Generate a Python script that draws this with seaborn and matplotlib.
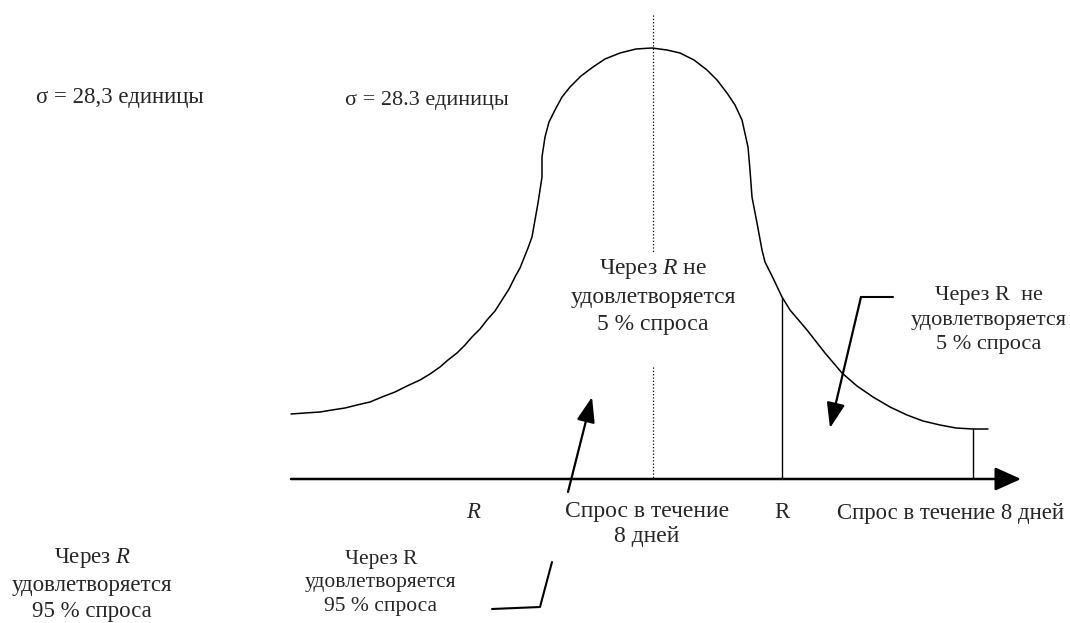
import numpy as np
import pandas as pd
import matplotlib
matplotlib.use("Agg")
import matplotlib.pyplot as plt
import seaborn as sns

# demand curve (x = demand position, y = drawn height, image px)
curve_x = [291, 305, 320, 332, 345, 357, 370, 382, 395, 407, 420, 430, 440, 448, 457,
           465, 472, 480, 487, 495, 502, 509, 515, 520, 524, 528, 532, 535, 538, 540,
           542, 542, 545, 549, 555, 562, 570, 581, 593, 605, 620, 636, 652, 667, 680,
           694, 707, 717, 727, 735, 742, 748, 750, 752, 757, 762, 765, 773, 782, 790,
           807, 825, 842, 857, 873, 890, 907, 923, 940, 956, 973, 988]
curve_y = [414, 413, 412, 410, 408, 405, 402, 397, 392, 386, 380, 374, 367, 360, 353,
           345, 337, 329, 320, 311, 300, 289, 277, 268, 258, 248, 237, 220, 203, 190,
           177, 157, 137, 122, 110, 97, 87, 76, 67, 59, 53, 49, 48, 50, 53,
           60, 70, 80, 93, 105, 120, 147, 170, 197, 223, 250, 262, 278, 297, 310,
           330, 353, 373, 386, 397, 407, 415, 421, 425, 428, 429, 429]

axis_y = 479
axis_x = [291, 1021]
mean_x = 653
mean_top = 15
mean_gap = [252, 367]
r_x = 782
r_top = 297
tail_x = 973
tail_top = 429

sigma_labels = ["σ = 28,3 единицы", "σ = 28.3 единицы"]
not_met_center = "Через $R$ не\nудовлетворяется\n5 % спроса"
not_met_right = "Через R  не\nудовлетворяется\n5 % спроса"
met_left = "Через $R$\nудовлетворяется\n95 % спроса"
met_mid = "Через R\nудовлетворяется\n95 % спроса"
demand_mid = "Спрос в течение\n8 дней"
demand_right = "Спрос в течение 8 дней"

sns.set_theme(style="white")
plt.rcParams["font.family"] = ["Liberation Serif", "DejaVu Serif"]
plt.rcParams["mathtext.fontset"] = "custom"
plt.rcParams["mathtext.rm"] = "Liberation Serif"
plt.rcParams["mathtext.it"] = "Liberation Serif:italic"

fig = plt.figure(figsize=(10.7, 6.23), dpi=100)
ax = fig.add_axes([0, 0, 1, 1])
ax.set_xlim(0, 1070)
ax.set_ylim(623, 0)
ax.axis("off")

df = pd.DataFrame({"x": curve_x, "y": curve_y})
sns.lineplot(data=df, x="x", y="y", sort=False, estimator=None, color="black", lw=1.1, ax=ax)

# mean line (dotted, broken by the label), R line and tail line
ax.plot([mean_x, mean_x], [mean_top, mean_gap[0]], color="black", ls=":", lw=0.9)
ax.plot([mean_x, mean_x], [mean_gap[1], axis_y], color="black", ls=":", lw=0.9)
ax.plot([r_x, r_x], [r_top, axis_y], color="black", lw=1)
ax.plot([tail_x, tail_x], [tail_top, axis_y], color="black", lw=1)

# demand axis with arrow
ax.annotate("", xy=(axis_x[1], axis_y), xytext=(axis_x[0], axis_y),
            arrowprops=dict(arrowstyle="-|>,head_length=1.0,head_width=0.45",
                            color="black", lw=1.8, mutation_scale=16,
                            shrinkA=0, shrinkB=0))

arrow_kw = dict(arrowstyle="-|>,head_length=1.1,head_width=0.4", color="black",
                lw=1.6, mutation_scale=14, shrinkA=0, shrinkB=0)
# right pointer
ax.plot([893, 861], [297, 297], color="black", lw=1.5)
ax.annotate("", xy=(830, 428), xytext=(861, 297), arrowprops=arrow_kw)
# left pointer
ax.annotate("", xy=(592, 397), xytext=(568, 492), arrowprops=arrow_kw)
# bottom bracket
ax.plot([492, 540, 552], [609, 607, 562], color="black", lw=1.5)

ax.text(36, 97, sigma_labels[0], fontsize=16.5, ha="left", va="center")
ax.text(345, 100, sigma_labels[1], fontsize=16, ha="left", va="center")
ax.text(mean_x, 296, not_met_center, fontsize=17, ha="center", va="center", linespacing=1.35)
ax.text(989, 320, not_met_right, fontsize=16, ha="center", va="center", linespacing=1.36)
ax.text(92, 584, met_left, fontsize=16.5, ha="center", va="center", linespacing=1.34)
ax.text(381, 583, met_mid, fontsize=15.5, ha="center", va="center", linespacing=1.32)
ax.text(647, 524, demand_mid, fontsize=17, ha="center", va="center", linespacing=1.2)
ax.text(474, 512, "$R$", fontsize=16.5, ha="center", va="center")
ax.text(782, 512, "R", fontsize=16.5, ha="center", va="center")
ax.text(837, 514, demand_right, fontsize=16.4, ha="left", va="center")

fig.savefig("out.png", dpi=100, facecolor="white")
